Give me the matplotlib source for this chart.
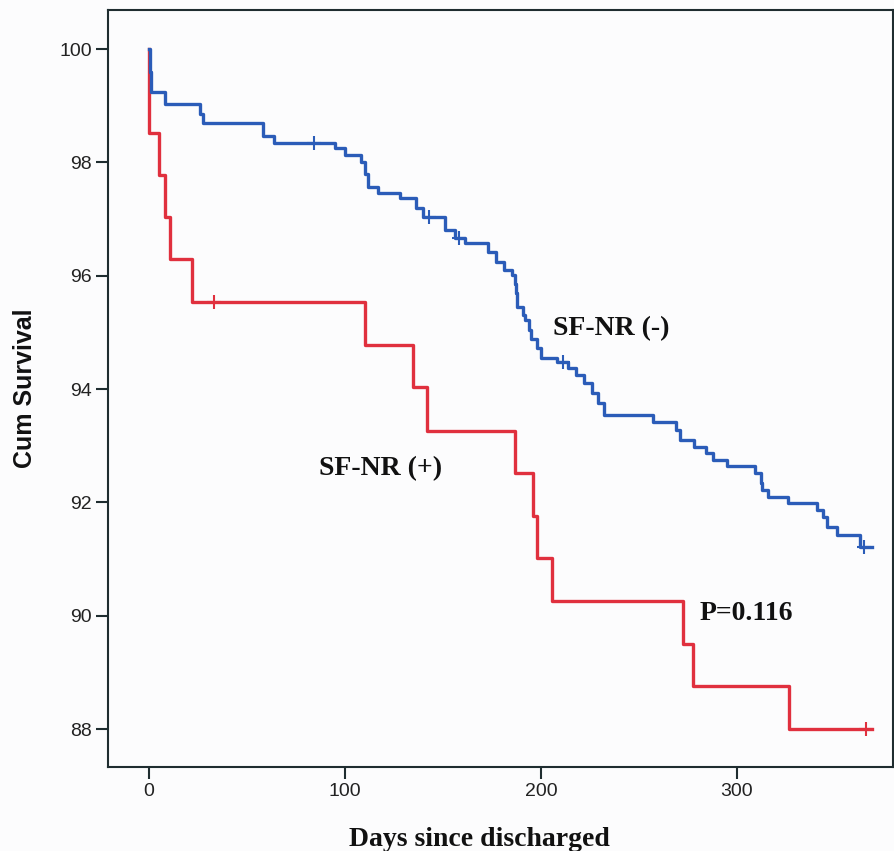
import numpy as np
import matplotlib
matplotlib.use("Agg")
import matplotlib.pyplot as plt

# Kaplan-Meier steps (day, cumulative survival %)
neg_days = [0, 0.5, 1, 8, 26, 27.5, 58, 64, 95, 100, 108, 110, 112, 117, 128, 136, 140,
            151, 156, 161, 173, 177, 181, 185, 186.5, 187, 188, 191, 192, 194, 195, 198,
            200, 208, 214, 218, 222, 226, 229, 232, 257, 269, 271, 278, 284, 288, 295,
            309, 312, 313, 316, 326, 341, 344, 346, 351, 363, 369]
neg_surv = [100, 99.6, 99.24, 99.03, 98.86, 98.69, 98.46, 98.34, 98.25, 98.13, 98.0, 97.8,
            97.56, 97.46, 97.37, 97.2, 97.04, 96.8, 96.66, 96.58, 96.42, 96.24, 96.1, 96.01,
            95.85, 95.69, 95.45, 95.31, 95.22, 95.04, 94.88, 94.72, 94.55, 94.48, 94.37,
            94.25, 94.1, 93.93, 93.75, 93.54, 93.42, 93.28, 93.1, 92.98, 92.87, 92.75, 92.64,
            92.52, 92.34, 92.22, 92.09, 91.99, 91.87, 91.74, 91.57, 91.42, 91.21, 91.21]
neg_cens_days = [84, 143, 158, 211, 365]
neg_cens_surv = [98.34, 97.04, 96.66, 94.48, 91.21]

pos_days = [0, 5, 8.2, 10.7, 22, 110, 134.7, 142, 186.7, 196, 198, 205.6, 272.4, 277.5, 326.5, 369]
pos_surv = [98.52, 97.78, 97.04, 96.29, 95.54, 94.78, 94.04, 93.26, 92.52, 91.76, 91.02,
            90.26, 89.50, 88.76, 88.0, 88.0]
pos_cens_days = [33, 366]
pos_cens_surv = [95.54, 88.0]

blue = "#2b5cb8"
red = "#e0303e"
spine_col = "#1f2d30"

fig = plt.figure(figsize=(8.94, 8.51), dpi=100)
fig.patch.set_facecolor("#fcfcfd")
ax = fig.add_axes([0.1208, 0.0987, 0.8781, 0.8895])
ax.set_facecolor("#fcfcfd")

ax.step(neg_days, neg_surv, where="post", color=blue, lw=2.4, zorder=3)
ax.plot(neg_cens_days, neg_cens_surv, "+", color=blue, ms=10, mew=1.5, zorder=3)
# red curve starts at 100 on day 0
ax.step([0] + pos_days, [100] + pos_surv, where="post", color=red, lw=2.4, zorder=2)
ax.plot(pos_cens_days, pos_cens_surv, "+", color=red, ms=10, mew=1.5, zorder=2)

ax.set_xlim(-20.9, 379.6)
ax.set_ylim(87.33, 100.69)
ax.set_xticks([0, 100, 200, 300])
ax.set_yticks([88, 90, 92, 94, 96, 98, 100])

for s in ax.spines.values():
    s.set_color(spine_col)
    s.set_linewidth(1.5)
ax.tick_params(length=8.6, width=1.5, color=spine_col, pad=3, labelsize=14,
               labelcolor="#222222")
for lab in ax.get_xticklabels() + ax.get_yticklabels():
    lab.set_family("Liberation Sans")

serif = dict(family="Liberation Serif", fontweight="bold", fontsize=20, color="#111111")
ax.text(206, 94.95, "SF-NR (-)", **serif)
ax.text(87, 92.48, "SF-NR (+)", **serif)
ax.text(281, 89.92, "P=0.116", **serif)

fig.text(0.028, 0.544, "Cum Survival", rotation=90, ha="center", va="center",
         family="Liberation Sans", fontweight="bold", fontsize=18, color="#111111")
fig.text(0.536, 0.006, "Days since discharged", ha="center", va="baseline",
         family="Liberation Serif", fontweight="bold", fontsize=20, color="#111111")

fig.savefig("out.png", dpi=100, facecolor=fig.get_facecolor())
